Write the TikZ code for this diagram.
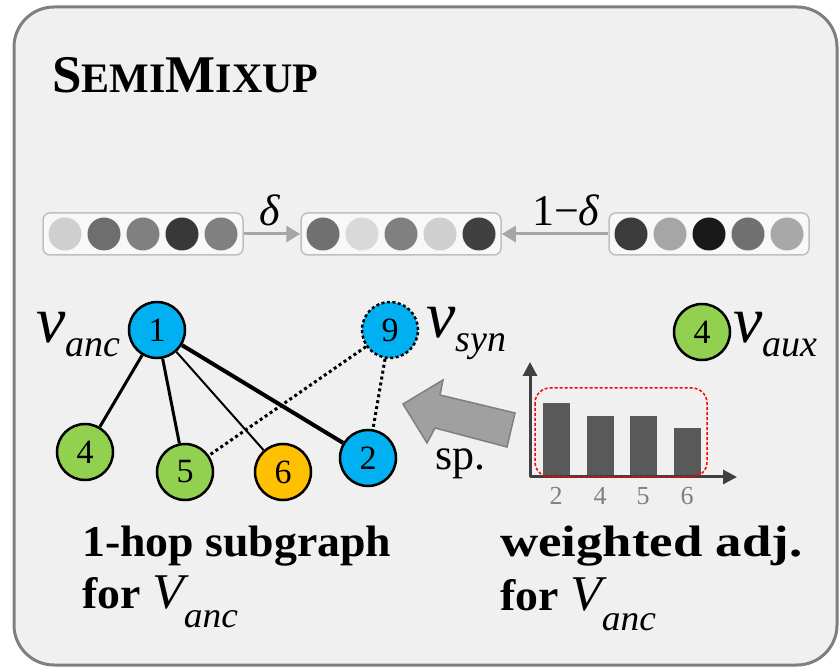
\documentclass[tikz,border=0pt]{standalone}
\usepackage{fontspec}
\setmainfont{Liberation Serif}
\usepackage{tikz}
\usetikzlibrary{arrows.meta}

\definecolor{bgfill}{HTML}{F0F0F0}
\definecolor{bgline}{HTML}{7F7F7F}
\definecolor{nblue}{HTML}{00B0F0}
\definecolor{ngreen}{HTML}{92D050}
\definecolor{norange}{HTML}{FFC000}
\definecolor{vecline}{HTML}{BFBFBF}
\definecolor{mixarrow}{HTML}{A6A6A6}
\definecolor{barfill}{HTML}{595959}
\definecolor{axisline}{HTML}{404040}
\definecolor{ticktext}{HTML}{7F7F7F}
\definecolor{sparrow}{HTML}{A0A0A0}

\newcommand{\vname}[1]{{\itshape\fontsize{66}{66}\selectfont v}\raisebox{-14pt}{\itshape\fontsize{38}{38}\selectfont #1}}
\newcommand{\Vname}[1]{{\mdseries\itshape\fontsize{50}{50}\selectfont V}\raisebox{-20pt}{\mdseries\itshape\fontsize{36}{36}\selectfont #1}}

\begin{document}
\begin{tikzpicture}[x=1pt,y=-1pt,
  vecbox/.style={draw=vecline, line width=1.5pt, fill=bgfill!50!white, rounded corners=7pt, minimum width=200pt, minimum height=42pt, inner sep=0pt},
  mixarr/.style={draw=mixarrow, line width=3pt, -{Triangle[length=14pt,width=16pt]}},
  gnode/.style={circle, draw, line width=2.5pt, minimum size=56pt, inner sep=0pt, font=\fontsize{34}{34}\selectfont},
  tree/.style={line width=3pt},
  synedge/.style={line width=3pt, dash pattern=on 3pt off 3pt},
  axisarr/.style={draw=axisline, line width=3pt, -{Triangle[length=14pt,width=14pt]}},
  caption/.style={anchor=base west, inner sep=0pt, font=\bfseries\fontsize{44}{44}\selectfont},
  lab/.style={anchor=base west, inner sep=0pt}]
\useasboundingbox (0,0) rectangle (839,668);
%panel
\draw[draw=bgline, fill=bgfill, line width=3pt, rounded corners=40pt] (14,7) rectangle (837,665);
\node[lab] (title) at (52,93) {\bfseries\fontsize{53}{53}\selectfont S\fontsize{42}{42}\selectfont EMI\fontsize{53}{53}\selectfont M\fontsize{42}{42}\selectfont IXUP};

%feature vectors
\node[vecbox] (vecanc) at (143,234) {};
\node[vecbox] (vecmix) at (401,234) {};
\node[vecbox] (vecaux) at (709,234) {};
\foreach \g [count=\i] in {19,57,50,78,50} \fill[black!\g] (26+39*\i,234) circle (16.5pt);
\foreach \g [count=\i] in {56,15,50,19,75} \fill[black!\g] (284+39*\i,234) circle (16.5pt);
\foreach \g [count=\i] in {77,35,90,56,34} \fill[black!\g] (592+39*\i,234) circle (16.5pt);
%mixing
\draw[mixarr] (vecanc) -- (vecmix);
\draw[mixarr] (vecaux) -- (vecmix);
\node (delta) at (270,210) {\fontsize{44}{44}\selectfont\itshape δ};
\node (onemdelta) at (566,210) {\fontsize{44}{44}\selectfont 1−\textit{δ}};

%1-hop subgraph
\node[gnode, fill=nblue] (n1) at (157,330) {1};
\node[gnode, fill=nblue, dash pattern=on 3pt off 2.5pt] (n9) at (390,330) {9};
\node[gnode, fill=ngreen] (n4) at (85,452) {4};
\node[gnode, fill=ngreen] (n5) at (185,472) {5};
\node[gnode, fill=norange] (n6) at (283,472) {6};
\node[gnode, fill=nblue] (n2) at (368,458) {2};
\draw[tree] (n1) -- (n4);
\draw[tree] (n1) -- (n5);
\draw[line width=2pt] (n1) -- (n6);
\draw[line width=4pt] (n1) -- (n2);
\draw[synedge] (n9) -- (n5);
\draw[synedge] (n9) -- (n2);
\node[lab] (lanc) at (36,343) {\vname{anc}};
\node[lab] (lsyn) at (426,338) {\vname{syn}};
%auxiliary node
\node[gnode, fill=ngreen] (aux4) at (702,332) {4};
\node[lab] (laux) at (733,343) {\vname{aux}};

%sparsify arrow
\filldraw[fill=sparrow, draw=bgline, line width=1.5pt] (403,404) -- (443,380) -- (440,395) -- (515,413) -- (507,447) -- (435,428) -- (427,443) -- cycle;
\node[lab, font=\fontsize{44}{44}\selectfont] (sp) at (435,470) {sp.};

%weighted adjacency
\coordinate (origin) at (530,477);
\coordinate (ytop) at (530,362);
\coordinate (xend) at (737,477);
\foreach \x/\h/\l in {556/403/2, 600/416/4, 643/416/5, 687/428/6} {
  \fill[barfill] (\x-13.5,477) rectangle (\x+13.5,\h);
  \node[text=ticktext, font=\fontsize{26}{26}\selectfont] at (\x,496) {\l};
}
\draw[axisarr] (origin) -- (ytop);
\draw[axisarr] (origin) -- (xend);
\draw[red, line width=1.5pt, dash pattern=on 3pt off 2pt, rounded corners=15pt] (535,388) rectangle (707,477);

%captions
\node[caption] (capsub) at (82,556) {\scalebox{1.04}[1]{1-hop subgraph}};
\node[caption] (capsubfor) at (82,608) {\scalebox{1.04}[1]{for \Vname{anc}}};
\node[caption] (capadj) at (500,556) {\scalebox{1.2}[1]{weighted adj.}};
\node[caption] (capadjfor) at (500,610) {\scalebox{1.04}[1]{for \Vname{anc}}};
\end{tikzpicture}
\end{document}
